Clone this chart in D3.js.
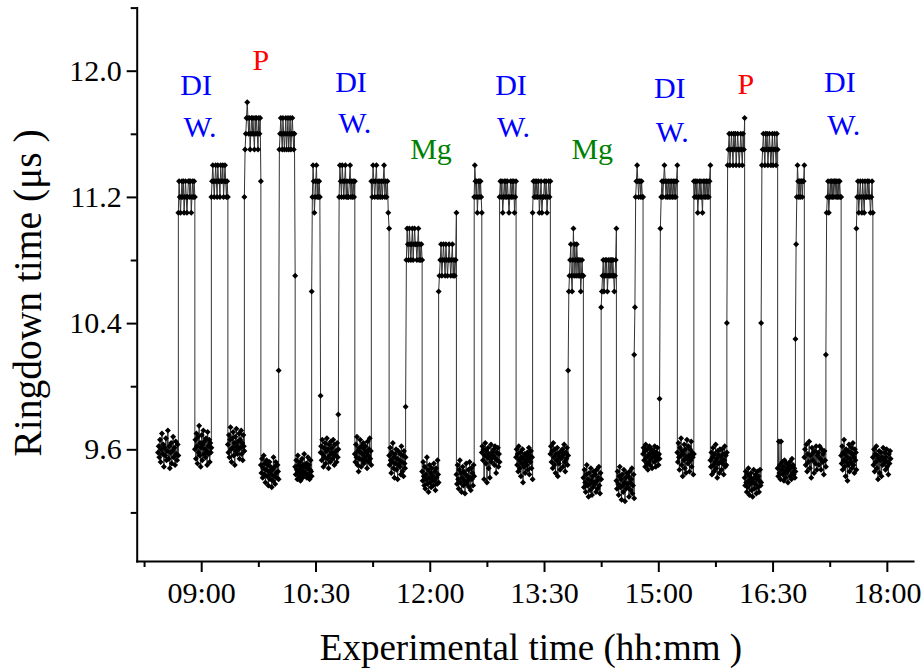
<!DOCTYPE html>
<html><head><meta charset="utf-8">
<script src="https://cdn.jsdelivr.net/npm/d3@7"></script>
<style>
body{margin:0;background:#fff}
svg{display:block}
</style>
</head><body>
<svg id="chart" width="924" height="671"></svg>
<script>
// ---- DATA ----
// boundaries between alternating baseline / sample runs (hh:mm)
const runBreaks = ["08:26","08:42","08:55","09:08","09:21","09:34","09:47","10:01","10:14","10:27","10:34","10:48","11:01","11:14","11:28","11:41","11:54","12:07","12:21","12:35","12:41","12:55","13:08","13:21","13:35","13:49","14:01","14:15","14:27","14:41","14:48","15:01","15:15","15:28","15:41","15:54","16:08","16:21","16:34","16:48","16:55","17:12","17:24","17:36","17:49","18:03"];

// ringdown times (us) measured on the baseline between samples
const baselineRuns = [
 [9.58,9.62,9.55,9.66,9.52,9.60,9.70,9.57,9.63,9.49,9.61,9.56,9.67,9.53,9.59,9.72,9.54,9.62,9.48,9.58,9.64,9.51,9.59,9.68,9.55,9.61,9.50,9.65,9.57,9.53,9.63,9.56],
 [9.60,9.66,9.54,9.70,9.62,9.51,9.68,9.58,9.75,9.56,9.64,9.49,9.61,9.69,9.53,9.63,9.72,9.57,9.65,9.60,9.55,9.67,9.59,9.50,9.71,9.62,9.57,9.66,9.52,9.64,9.58,9.61],
 [9.63,9.58,9.69,9.55,9.66,9.74,9.60,9.52,9.67,9.61,9.71,9.56,9.64,9.50,9.68,9.59,9.73,9.62,9.57,9.65,9.60,9.70,9.54,9.66,9.61,9.72,9.57,9.64,9.53,9.69,9.62,9.59],
 [9.50,9.45,9.54,9.42,9.48,9.56,9.44,9.51,9.39,9.47,9.53,9.43,9.50,9.37,9.46,9.52,9.41,9.49,9.44,9.36,9.47,9.40,9.55,9.43,9.49,9.38,9.52,9.45,9.42,9.50,9.46,9.41],
 [9.49,9.44,9.53,9.47,9.41,9.56,9.46,9.50,9.43,9.52,9.40,9.48,9.45,9.54,9.42,9.50,9.46,9.57,9.44,9.49,9.45,9.51,9.42,9.48,9.55,9.44,9.50,9.41,9.47,9.53,9.46,9.43],
 [9.58,9.62,9.53,9.66,9.57,9.49,9.61,9.55,9.64,9.51,9.59,9.67,9.54,9.60,9.48,9.63,9.56,9.52,9.65,9.58,9.61,9.54,9.66,9.57,9.50,9.63,9.56,9.59,9.52,9.64,9.55,9.60],
 [9.57,9.52,9.63,9.55,9.68,9.50,9.59,9.46,9.61,9.54,9.66,9.58,9.49,9.62,9.53,9.57,9.64,9.51,9.60,9.55,9.62,9.53,9.58,9.48,9.65,9.56,9.52,9.60,9.67,9.54,9.59,9.50],
 [9.56,9.50,9.61,9.53,9.45,9.58,9.52,9.64,9.48,9.55,9.42,9.57,9.51,9.60,9.47,9.54,9.41,9.59,9.50,9.53,9.49,9.57,9.44,9.62,9.52,9.46,9.56,9.43,9.59,9.51,9.48,9.55],
 [9.46,9.40,9.52,9.43,9.37,9.49,9.35,9.44,9.41,9.55,9.38,9.47,9.33,9.42,9.50,9.39,9.45,9.36,9.48,9.41,9.43,9.37,9.51,9.40,9.46,9.34,9.48,9.42,9.38,9.53,9.44,9.39],
 [9.44,9.38,9.50,9.41,9.35,9.47,9.53,9.39,9.45,9.33,9.42,9.49,9.37,9.46,9.40,9.32,9.44,9.51,9.38,9.43,9.40,9.47,9.36,9.52,9.42,9.34,9.48,9.41,9.45,9.37,9.50,9.43],
 [9.58,9.62,9.53,9.60,9.41,9.56,9.64,9.51,9.59,9.39,9.55,9.61,9.48,9.57,9.42,9.54,9.63,9.52,9.58,9.55,9.56,9.60,9.50,9.62,9.54,9.45,9.58,9.53,9.61,9.49,9.57,9.52],
 [9.55,9.60,9.50,9.57,9.46,9.62,9.53,9.48,9.58,9.43,9.55,9.51,9.60,9.39,9.54,9.49,9.57,9.45,9.52,9.56,9.50,9.58,9.47,9.54,9.61,9.44,9.56,9.52,9.59,9.48,9.55,9.41],
 [9.57,9.62,9.52,9.59,9.48,9.64,9.55,9.50,9.60,9.45,9.57,9.53,9.61,9.43,9.56,9.51,9.58,9.47,9.54,9.59,9.55,9.60,9.49,9.57,9.63,9.52,9.46,9.58,9.54,9.61,9.50,9.56],
 [9.42,9.36,9.47,9.39,9.33,9.44,9.50,9.37,9.41,9.30,9.45,9.38,9.34,9.48,9.40,9.31,9.43,9.36,9.46,9.39,9.38,9.44,9.33,9.47,9.40,9.35,9.42,9.49,9.37,9.32,9.45,9.41],
 [9.40,9.35,9.46,9.38,9.31,9.43,9.49,9.36,9.41,9.28,9.44,9.37,9.33,9.47,9.39,9.27,9.42,9.35,9.45,9.38,9.36,9.43,9.30,9.46,9.39,9.34,9.41,9.48,9.32,9.37,9.44,9.29],
 [9.57,9.61,9.53,9.59,9.49,9.63,9.55,9.51,9.60,9.47,9.56,9.52,9.62,9.50,9.58,9.54,9.60,9.48,9.55,9.57,9.59,9.52,9.62,9.55,9.49,9.58,9.53,9.61,9.56,9.50,9.57,9.54],
 [9.58,9.52,9.64,9.55,9.47,9.61,9.56,9.67,9.50,9.59,9.43,9.57,9.53,9.63,9.48,9.60,9.45,9.55,9.66,9.54,9.51,9.62,9.56,9.46,9.60,9.53,9.65,9.49,9.58,9.55,9.44,9.57],
 [9.53,9.49,9.58,9.44,9.55,9.61,9.50,9.46,9.57,9.52,9.63,9.48,9.54,9.42,9.59,9.51,9.56,9.45,9.60,9.52,9.55,9.47,9.60,9.51,9.57,9.44,9.53,9.62,9.49,9.56,9.50,9.58],
 [9.42,9.37,9.46,9.39,9.33,9.44,9.36,9.48,9.40,9.31,9.43,9.38,9.45,9.34,9.41,9.30,9.39,9.47,9.35,9.42,9.38,9.44,9.32,9.41,9.46,9.36,9.43,9.33,9.40,9.47,9.37,9.39],
 [9.48,9.43,9.65,9.45,9.50,9.41,9.65,9.47,9.52,9.44,9.49,9.40,9.53,9.46,9.42,9.51,9.45,9.48,9.39,9.50,9.47,9.52,9.43,9.49,9.41,9.54,9.45,9.50,9.44,9.48,9.42,9.46],
 [9.55,9.60,9.50,9.63,9.46,9.57,9.52,9.65,9.48,9.56,9.42,9.61,9.53,9.58,9.45,9.59,9.51,9.62,9.47,9.56,9.58,9.50,9.62,9.54,9.47,9.60,9.52,9.57,9.44,9.59,9.53,9.49],
 [9.56,9.51,9.62,9.47,9.58,9.53,9.66,9.49,9.57,9.43,9.60,9.52,9.55,9.40,9.59,9.50,9.63,9.46,9.54,9.58,9.52,9.61,9.48,9.57,9.64,9.50,9.55,9.45,9.60,9.53,9.58,9.47],
 [9.55,9.50,9.60,9.46,9.57,9.52,9.62,9.48,9.56,9.41,9.54,9.59,9.45,9.53,9.58,9.43,9.55,9.50,9.61,9.51,9.53,9.58,9.47,9.55,9.60,9.49,9.52,9.44,9.57,9.51,9.59,9.54]
];

// ringdown times (us) measured with the samples (DI water, P, Mg)
const sampleRuns = [
 [11.1,11.3,11.2,11.1,11.2,11.3,11.2,11.3,11.1,11.2,11.3,11.2,11.1,11.2,11.3,11.3,11.2,11.3,11.1,11.2,11.3,11.2,11.3,11.2],
 [11.2,11.3,11.4,11.3,11.2,11.3,11.4,11.3,11.2,11.4,11.3,11.3,11.2,11.4,11.3,11.3,11.4,11.2,11.3,11.4,11.3,11.2,11.3,11.2],
 [11.2,11.5,11.6,11.7,11.8,11.7,11.6,11.7,11.5,11.6,11.7,11.6,11.7,11.6,11.5,11.7,11.6,11.7,11.6,11.5,11.7,11.6,11.7,11.3],
 [10.1,11.5,11.6,11.7,11.6,11.5,11.7,11.6,11.5,11.6,11.7,11.5,11.6,11.7,11.5,11.6,11.7,11.5,11.6,11.7,11.6,11.5,11.6,10.7],
 [10.6,11.2,11.4,11.3,11.1,11.2,11.3,11.4,11.2,11.3,11.2,11.3,11.2,9.94],
 [9.82,11.2,11.4,11.3,11.2,11.4,11.3,11.2,11.3,11.4,11.2,11.3,11.2,11.2,11.3,11.4,11.2,11.3,11.2,11.3,11.2,11.3],
 [11.3,11.2,11.4,11.3,11.2,11.3,11.4,11.2,11.3,11.2,11.3,11.2,11.3,11.2,11.3,11.4,11.2,11.3,11.2,11.3,11.1,11.0],
 [9.87,10.8,11.0,10.9,10.8,11.0,10.9,10.8,10.9,11.0,10.8,10.9,11.0,10.9,10.9,10.8,10.9,11.0,10.8,10.9,10.8,10.9,10.8],
 [10.6,10.7,10.8,10.9,10.7,10.8,10.9,10.8,10.7,10.9,10.8,10.7,10.8,10.9,10.8,10.7,10.8,10.9,10.7,10.8,10.7,10.8,11.1],
 [11.2,11.4,11.3,11.2,11.3,11.1,11.2,11.3,11.3,11.2,11.3,11.2,11.1],
 [11.2,11.3,11.2,11.3,11.1,11.2,11.3,11.2,11.3,11.2,11.3,11.2,11.1,11.2,11.3,11.2,11.3,11.2,11.3,11.1,11.2,11.3],
 [11.1,11.3,11.2,11.3,11.2,11.3,11.2,11.3,11.1,11.2,11.3,11.1,11.2,11.2,11.3,11.2,11.3,11.1,11.2,11.3,11.2,11.3],
 [10.1,10.6,10.7,10.8,10.9,10.7,10.6,10.8,11.0,10.7,10.9,10.8,10.7,10.9,10.8,10.7,10.8,10.7,10.8,10.6,10.7,10.8,10.7,10.7],
 [10.5,10.6,10.7,10.8,10.6,10.7,10.8,10.7,10.8,10.6,10.7,10.8,10.7,10.8,10.7,10.8,10.7,10.8,10.7,10.6,10.7,10.8,11.0],
 [10.2,10.5,11.2,11.3,11.4,11.3,11.2,11.3,11.3,11.2,11.3,11.2,11.2],
 [9.92,11.0,11.2,11.3,11.2,11.3,11.4,11.3,11.2,11.3,11.2,11.3,11.2,11.3,11.2,11.3,11.2,11.3,11.2,11.3,11.2,11.3,11.4],
 [11.3,11.2,11.3,11.2,11.3,11.1,11.2,11.3,11.2,11.3,11.2,11.1,11.3,11.2,11.3,11.2,11.3,11.2,11.3,11.2,11.3,11.4],
 [10.4,11.4,11.5,11.6,11.4,11.5,11.6,11.5,11.4,11.6,11.5,11.6,11.4,11.5,11.6,11.5,11.4,11.5,11.6,11.5,11.4,11.6,11.5,11.7],
 [10.4,11.4,11.5,11.6,11.5,11.4,11.6,11.5,11.6,11.4,11.5,11.6,11.5,11.4,11.5,11.6,11.4,11.5,11.6,11.5,11.4,11.6,11.5],
 [10.3,10.9,11.2,11.4,11.3,11.2,11.3,11.2,11.3,11.3,11.2,11.3,11.3,11.4],
 [10.2,11.1,11.2,11.3,11.1,11.2,11.3,11.2,11.3,11.2,11.3,11.2,11.3,11.3,11.2,11.3,11.2,11.3,11.2,11.3,11.2,11.2],
 [11.0,11.2,11.3,11.1,11.2,11.3,11.2,11.1,11.3,11.2,11.1,11.3,11.2,11.2,11.3,11.2,11.3,11.2,11.1,11.2,11.3,11.1]
];

const xTickLabels = ["09:00","10:30","12:00","13:30","15:00","16:30","18:00"];
const xMinorTicks = ["08:15","09:45","11:15","12:45","14:15","15:45","17:15"];
const yTickValues = [9.6, 10.4, 11.2, 12.0];
const yMinorTicks = [9.2, 10.0, 10.8, 11.6, 12.4];

const annotationLabels = ["DI","W.","P","DI","W.","Mg","DI","W.","Mg","DI","W.","P","DI","W."];
const annotationTimes  = ["08:56","08:59","09:47","10:58","11:01","12:01","13:04","13:06","14:08","15:09","15:11","16:09","17:23","17:26"];
const annotationValues = [11.846,11.582,12.004,11.867,11.605,11.44,11.846,11.582,11.44,11.827,11.55,11.852,11.865,11.592];

const xTitle = "Experimental time (hh:mm )";
const yTitle = "Ringdown time (\u03bcs )";

// ---- FONT PICK (first installed serif face) ----
function pickFont(cands) {
  const ctx = document.createElement("canvas").getContext("2d");
  const s = "Experimental time (hh:mm) 0123456789 WgMi";
  for (const c of cands) {
    for (const base of ["monospace", "sans-serif"]) {
      ctx.font = "40px " + base; const w0 = ctx.measureText(s).width;
      ctx.font = "40px '" + c + "', " + base; const w1 = ctx.measureText(s).width;
      if (Math.abs(w1 - w0) > 0.5) return "'" + c + "'";
    }
  }
  return "serif";
}
const serif = pickFont(["Liberation Serif","Times New Roman","Tinos","Nimbus Roman","FreeSerif","DejaVu Serif","Noto Serif","Times"]);

// ---- DRAWING ----
const toMin = s => { const p = s.split(":").map(Number); return p[0]*60 + p[1]; };

const svg = d3.select("#chart");
const x = d3.scaleLinear().domain([489.2, 1100.6]).range([136.7, 913]);
const y = d3.scaleLinear().domain([8.892, 12.4]).range([561, 7.6]);

const points = [];
for (let k = 0; k < runBreaks.length - 1; k++) {
  const vals = (k % 2 === 0) ? baselineRuns[k/2] : sampleRuns[(k-1)/2];
  const t0 = toMin(runBreaks[k]), t1 = toMin(runBreaks[k+1]);
  vals.forEach((v, i) => points.push({t: t0 + (t1 - t0) * i / (vals.length - 1), v: v}));
}

svg.append("path").datum(points)
  .attr("fill", "none").attr("stroke", "#333").attr("stroke-width", 1)
  .attr("d", d3.line().x(d => x(d.t)).y(d => y(d.v)));

const r = 3.0;
const diamond = `M0,${-r}L${r},0L0,${r}L${-r},0Z`;
svg.append("g").selectAll("path").data(points).join("path")
  .attr("transform", d => `translate(${x(d.t)},${y(d.v)})`)
  .attr("d", diamond).attr("fill", "#000");

// axes
function styleAxis(g) {
  g.style("font-family", serif).attr("font-size", 30);
  g.selectAll(".domain").attr("stroke", "#000").attr("stroke-width", 2).attr("stroke-linecap", "square");
  g.selectAll(".tick line").attr("stroke", "#000").attr("stroke-width", 2);
  g.selectAll(".tick text").attr("fill", "#000").style("font-family", serif);
}
svg.append("g").attr("transform", "translate(0,561)")
  .call(d3.axisBottom(x).tickValues(xMinorTicks.map(toMin)).tickFormat("").tickSizeInner(6).tickSizeOuter(0))
  .call(g => { styleAxis(g); g.select(".domain").remove(); });
svg.append("g").attr("transform", "translate(136.7,0)")
  .call(d3.axisLeft(y).tickValues(yMinorTicks).tickFormat("").tickSizeInner(6).tickSizeOuter(0))
  .call(g => { styleAxis(g); g.select(".domain").remove(); });

svg.append("g").attr("transform", "translate(0,561)")
  .call(d3.axisBottom(x).tickValues(xTickLabels.map(toMin)).tickFormat((d, i) => xTickLabels[i])
        .tickSizeInner(11).tickSizeOuter(0).tickPadding(10))
  .call(styleAxis);
svg.append("g").attr("transform", "translate(136.7,0)")
  .call(d3.axisLeft(y).tickValues(yTickValues).tickFormat(d3.format(".1f"))
        .tickSizeInner(10).tickSizeOuter(0).tickPadding(5))
  .call(styleAxis);

// titles
svg.append("text").attr("x", 531).attr("y", 660).attr("text-anchor", "middle")
  .style("font-family", serif).attr("font-size", 37).text(xTitle);
svg.append("text").attr("transform", "translate(41,293) rotate(-90)").attr("text-anchor", "middle")
  .style("font-family", serif).attr("font-size", 39.5).text(yTitle);

// annotations
const labelColor = {"DI": "#0000ff", "W.": "#0000ff", "P": "#ff0000", "Mg": "#008000"};
svg.append("g").selectAll("text").data(annotationLabels).join("text")
  .attr("x", (d, i) => x(toMin(annotationTimes[i])))
  .attr("y", (d, i) => y(annotationValues[i]))
  .attr("text-anchor", "middle").style("font-family", serif).attr("font-size", 30)
  .attr("fill", d => labelColor[d]).text(d => d);
</script>
</body></html>
